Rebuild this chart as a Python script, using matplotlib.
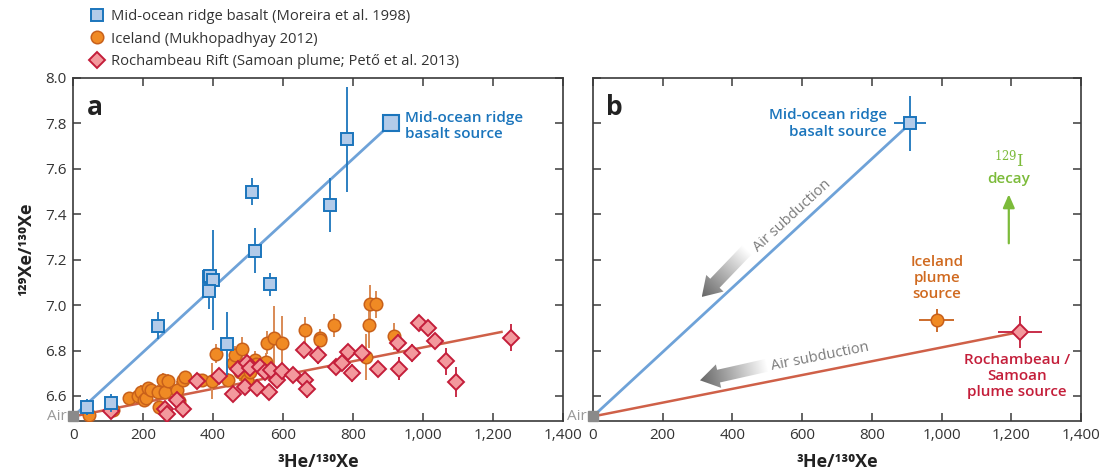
import numpy as np
import matplotlib
matplotlib.use("Agg")
import matplotlib.pyplot as plt
from matplotlib.patches import Polygon
from matplotlib.colors import LinearSegmentedColormap
from matplotlib.lines import Line2D
from matplotlib.ticker import FuncFormatter

plt.rcParams['font.family'] = ['Open Sans', 'DejaVu Sans']

# ---- data ----
air = (0, 6.51)

morb_x = [38, 107, 241, 389, 392, 400, 389, 441, 510, 520, 563, 734, 782]
morb_y = [6.552, 6.570, 6.910, 7.122, 7.127, 7.110, 7.061, 6.831, 7.499, 7.240, 7.091, 7.440, 7.730]
morb_err = [0.035, 0.04, 0.06, 0.03, 0.03, 0.22, 0.08, 0.14, 0.06, 0.10, 0.05, 0.12, 0.23]
morb_source = (910, 7.80)

ice_x = [46, 114, 160, 186, 193, 202, 208, 215, 221, 243, 246, 258, 262, 272, 296, 301,
         315, 321, 357, 367, 396, 408, 443, 458, 462, 484, 476, 496, 505, 520, 524, 551,
         553, 574, 596, 663, 706, 706, 747, 847, 849, 866, 836, 918]
ice_y = [6.515, 6.537, 6.591, 6.600, 6.618, 6.581, 6.590, 6.633, 6.625, 6.618, 6.552, 6.672,
         6.618, 6.666, 6.625, 6.580, 6.672, 6.684, 6.669, 6.672, 6.666, 6.787, 6.672, 6.745,
         6.779, 6.809, 6.706, 6.672, 6.706, 6.757, 6.743, 6.750, 6.834, 6.856, 6.834, 6.889,
         6.857, 6.846, 6.911, 6.911, 7.007, 7.003, 6.772, 6.863]
ice_err = [0.02, 0.03, 0.02, 0.03, 0.03, 0.03, 0.03, 0.02, 0.03, 0.03, 0.03, 0.03,
           0.03, 0.03, 0.04, 0.03, 0.03, 0.02, 0.03, 0.02, 0.08, 0.04, 0.03, 0.04,
           0.04, 0.05, 0.04, 0.03, 0.04, 0.04, 0.03, 0.04, 0.05, 0.14, 0.12, 0.06,
           0.04, 0.03, 0.05, 0.10, 0.08, 0.06, 0.10, 0.06]
ice_source = (986, 6.933)

roc_x = [107, 262, 269, 297, 313, 353, 418, 458, 472, 491, 498, 505, 526, 534, 548, 561,
         566, 584, 596, 629, 661, 663, 668, 701, 751, 770, 787, 796, 825, 873, 928, 932,
         970, 990, 1016, 1035, 1066, 1095, 1253]
roc_y = [6.534, 6.544, 6.522, 6.584, 6.544, 6.666, 6.687, 6.607, 6.718, 6.640, 6.745, 6.724,
         6.633, 6.728, 6.706, 6.618, 6.713, 6.672, 6.710, 6.694, 6.804, 6.669, 6.630, 6.779,
         6.728, 6.745, 6.794, 6.701, 6.789, 6.720, 6.833, 6.720, 6.791, 6.922, 6.901, 6.842,
         6.753, 6.662, 6.856]
roc_err = [0.03, 0.03, 0.02, 0.03, 0.03, 0.03, 0.03, 0.02, 0.03, 0.03, 0.03, 0.03,
           0.03, 0.03, 0.03, 0.03, 0.03, 0.03, 0.03, 0.03, 0.03, 0.03, 0.04, 0.04,
           0.03, 0.03, 0.03, 0.04, 0.03, 0.03, 0.04, 0.05, 0.04, 0.02, 0.02, 0.03,
           0.06, 0.066, 0.06]
roc_source = (1225, 6.882)

# panel b source uncertainties (x err, y err)
morb_src_err = (46, 0.12)
ice_src_err = (50, 0.05)
roc_src_err = (62, 0.07)

xlim = (0, 1400)
ylim = (6.49, 8.0)
xticks = [0, 200, 400, 600, 800, 1000, 1200, 1400]
yticks = [6.6, 6.8, 7.0, 7.2, 7.4, 7.6, 7.8, 8.0]

# colours
C_MORB_E, C_MORB_F, C_MORB_L = '#1b75bc', '#b3cbe9', '#6ea2d8'
C_ICE_E, C_ICE_F, C_ICE_ERR, C_ICE_T = '#c8601a', '#f08a24', '#d98a55', '#d06a20'
C_ROC_E, C_ROC_F, C_ROC_L = '#c41e3a', '#f3999d', '#cf6048'
C_AIR = '#8a8a8a'
C_GREEN = '#7cbb3a'
C_SPINE = '#3a3a3a'


def style_axes(ax, labels_y=True):
    ax.set_xlim(*xlim)
    ax.set_ylim(*ylim)
    ax.set_autoscale_on(False)
    ax.set_xticks(xticks)
    ax.set_yticks(yticks)
    ax.xaxis.set_major_formatter(FuncFormatter(lambda v, p: f'{int(v):,}'))
    ax.yaxis.set_major_formatter(FuncFormatter(lambda v, p: f'{v:.1f}'))
    ax.tick_params(direction='in', length=6, width=1.1, color=C_SPINE,
                   top=True, right=True, labelsize=11, labelcolor='#333333', pad=5)
    if not labels_y:
        ax.tick_params(labelleft=False)
    for s in ax.spines.values():
        s.set_color(C_SPINE)
        s.set_linewidth(1.2)
    ax.set_xlabel('³He/¹³⁰Xe', fontsize=13, fontweight='bold', color='#222222', labelpad=7)
    # Air end-member
    ax.plot(*air, 's', ms=7, color=C_AIR, clip_on=False, zorder=6)
    ax.text(-18, air[1], 'Air', ha='right', va='center', fontsize=11, color='#999999')


def grad_arrow(ax, p0, p1, shaft=13, head_w=24, head_l=19, c0='#ffffff', c1='#666666'):
    T = ax.transData
    a = T.transform(p0)
    b = T.transform(p1)
    d = b - a
    L = np.hypot(*d)
    u = d / L
    n = np.array([-u[1], u[0]])
    hb = b - u * head_l
    pts = np.array([a + n * shaft / 2, hb + n * shaft / 2, hb + n * head_w / 2, b,
                    hb - n * head_w / 2, hb - n * shaft / 2, a - n * shaft / 2])
    dpts = T.inverted().transform(pts)
    poly = Polygon(dpts, closed=True, facecolor='none', edgecolor='none')
    ax.add_patch(poly)
    x0, x1 = dpts[:, 0].min(), dpts[:, 0].max()
    y0, y1 = dpts[:, 1].min(), dpts[:, 1].max()
    gx, gy = np.meshgrid(np.linspace(x0, x1, 200), np.linspace(y0, y1, 200))
    disp = T.transform(np.column_stack([gx.ravel(), gy.ravel()]))
    t = np.clip(((disp - a) @ u) / L, 0, 1).reshape(gx.shape)
    cmap = LinearSegmentedColormap.from_list('g', [c0, c1])
    im = ax.imshow(t, extent=(x0, x1, y0, y1), origin='lower', cmap=cmap, vmin=0, vmax=1,
                   aspect='auto', interpolation='bilinear', zorder=1)
    im.set_clip_path(poly)


fig = plt.figure(figsize=(11.02, 4.71), dpi=100)
ax_a = fig.add_axes([0.0665, 0.1062, 0.4441, 0.7282])
ax_b = fig.add_axes([0.5381, 0.1062, 0.4428, 0.7282])

# ---------------- panel a ----------------
style_axes(ax_a)
ax_a.set_ylabel('¹²⁹Xe/¹³⁰Xe', fontsize=13, fontweight='bold', color='#222222', labelpad=7)

ax_a.plot([air[0], morb_source[0]], [air[1], morb_source[1]], color=C_MORB_L, lw=2, zorder=2)
ax_a.plot([air[0], roc_source[0]], [air[1], roc_source[1]], color=C_ROC_L, lw=1.8, zorder=2)

ax_a.errorbar(ice_x, ice_y, yerr=ice_err, fmt='o', ms=9, mfc=C_ICE_F, mec=C_ICE_E, mew=1.1,
              ecolor=C_ICE_ERR, elinewidth=1.4, capsize=0, zorder=3)
ax_a.errorbar(roc_x, roc_y, yerr=roc_err, fmt='D', ms=8, mfc=C_ROC_F, mec=C_ROC_E, mew=1.4,
              ecolor=C_ROC_E, elinewidth=1.3, capsize=0, zorder=4)
ax_a.errorbar(morb_x, morb_y, yerr=morb_err, fmt='s', ms=8, mfc=C_MORB_F, mec=C_MORB_E, mew=1.4,
              ecolor=C_MORB_E, elinewidth=1.3, capsize=0, zorder=5)
ax_a.plot(*morb_source, 's', ms=11, mfc=C_MORB_F, mec=C_MORB_E, mew=1.5, zorder=5)

ax_a.text(948, 7.79, 'Mid-ocean ridge\nbasalt source', ha='left', va='center', fontsize=11,
          fontweight='semibold', color=C_MORB_E, linespacing=1.2)
ax_a.text(38, 7.87, 'a', ha='left', va='center', fontsize=19, fontweight='bold', color='#222222')

# legend
handles = [
    Line2D([], [], ls='none', marker='s', ms=8, mfc=C_MORB_F, mec=C_MORB_E, mew=1.4),
    Line2D([], [], ls='none', marker='o', ms=9, mfc=C_ICE_F, mec=C_ICE_E, mew=1.1),
    Line2D([], [], ls='none', marker='D', ms=8, mfc=C_ROC_F, mec=C_ROC_E, mew=1.4),
]
labels = ['Mid-ocean ridge basalt (Moreira et al. 1998)',
          'Iceland (Mukhopadhyay 2012)',
          'Rochambeau Rift (Samoan plume; Pető et al. 2013)']
fig.legend(handles, labels, loc='upper left', bbox_to_anchor=(0.075, 0.993), frameon=False,
           fontsize=10.6, handletextpad=0.3, labelspacing=0.5, borderaxespad=0,
           labelcolor='#333333', handlelength=1.2)

# ---------------- panel b ----------------
style_axes(ax_b, labels_y=False)

ax_b.plot([air[0], morb_source[0]], [air[1], morb_source[1]], color=C_MORB_L, lw=2, zorder=2)
ax_b.plot([air[0], roc_source[0]], [air[1], roc_source[1]], color=C_ROC_L, lw=1.8, zorder=2)

ax_b.errorbar(*morb_source, xerr=morb_src_err[0], yerr=morb_src_err[1], fmt='s', ms=9,
              mfc=C_MORB_F, mec=C_MORB_E, mew=1.4, ecolor=C_MORB_E, elinewidth=1.3, capsize=0, zorder=5)
ax_b.errorbar(*ice_source, xerr=ice_src_err[0], yerr=ice_src_err[1], fmt='o', ms=9,
              mfc=C_ICE_F, mec=C_ICE_E, mew=1.1, ecolor=C_ICE_E, elinewidth=1.3, capsize=0, zorder=5)
ax_b.errorbar(*roc_source, xerr=roc_src_err[0], yerr=roc_src_err[1], fmt='D', ms=8,
              mfc=C_ROC_F, mec=C_ROC_E, mew=1.4, ecolor=C_ROC_E, elinewidth=1.3, capsize=0, zorder=5)

# air subduction arrows
grad_arrow(ax_b, (441, 7.242), (312, 7.036))
grad_arrow(ax_b, (498, 6.735), (307, 6.669))
ax_b.text(572, 7.393, 'Air subduction', rotation=42.5, rotation_mode='anchor', ha='center',
          va='center', fontsize=10.5, color='#7a7a7a')
ax_b.text(651, 6.772, 'Air subduction', rotation=11.3, rotation_mode='anchor', ha='center',
          va='center', fontsize=10.5, color='#7a7a7a')

# 129I decay
ax_b.annotate('', xy=(1193, 7.50), xytext=(1193, 7.26),
              arrowprops=dict(arrowstyle='-|>,head_length=0.8,head_width=0.35', color=C_GREEN, lw=1.6))
ax_b.text(1193, 7.635, r'$^{129}\mathrm{I}$', ha='center', va='center', fontsize=12, color=C_GREEN,
          math_fontfamily='dejavuserif')
ax_b.text(1193, 7.555, 'decay', ha='center', va='center', fontsize=11,
          fontweight='semibold', color=C_GREEN)

ax_b.text(843, 7.80, 'Mid-ocean ridge\nbasalt source', ha='right', va='center', fontsize=11,
          fontweight='semibold', color=C_MORB_E, linespacing=1.2)
ax_b.text(987, 7.12, 'Iceland\nplume\nsource', ha='center', va='center', fontsize=11,
          fontweight='semibold', color=C_ICE_T, linespacing=1.2)
ax_b.text(1217, 6.687, 'Rochambeau /\nSamoan\nplume source', ha='center', va='center', fontsize=11,
          fontweight='semibold', color=C_ROC_E, linespacing=1.2)
ax_b.text(38, 7.87, 'b', ha='left', va='center', fontsize=19, fontweight='bold', color='#222222')

fig.savefig('out.png', dpi=100)
